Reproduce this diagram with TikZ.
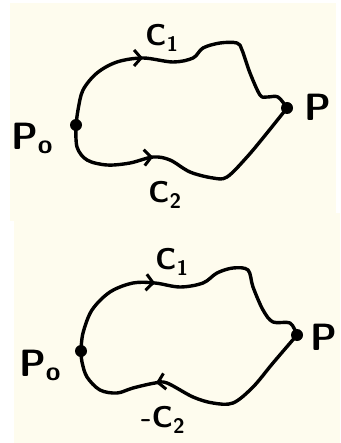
\documentclass[tikz,border=0pt]{standalone}
\usepackage{tikz}
\usetikzlibrary{arrows.meta, decorations.markings}
\definecolor{paper}{HTML}{FEFCEE}

\begin{document}
\begin{tikzpicture}[
    x=1pt, y=-1pt,
    pathline/.style={line width=3.4pt, line cap=round, line join=round},
    dot/.style={circle, fill=black, minimum size=12pt, inner sep=0pt},
    curvelabel/.style={font=\sffamily\bfseries\fontsize{30}{30}\selectfont},
    ptlabel/.style={font=\sffamily\bfseries\fontsize{38}{38}\selectfont},
    midarrow/.style={postaction={decorate, decoration={markings,
        mark=at position #1 with {\arrow{Straight Barb[length=7pt, width=16pt, line width=3pt]}}}}},
]

\useasboundingbox (0,0) rectangle (340,443);

% paper sheets
\fill[paper] (10,3) rectangle (336,221);
\fill[paper] (14,213) rectangle (340,443);

% Top: two paths C1 and C2 from P0 to P
\node[dot] (pzeroA) at (76,125) {};
\node[dot] (pA) at (287,108) {};

\draw[pathline, midarrow=0.36] plot[smooth, tension=0.55] coordinates {
    (pzeroA.center) (78,110) (83,90) (97,73) (117,62) (143,58) (173,62)
    (193,58) (203,48) (220,43) (237,43) (242,50) (250,73) (260,95)
    (267,97) (278,97) (pA.center)};
\draw[pathline, midarrow=0.385] plot[smooth, tension=0.55] coordinates {
    (pzeroA.center) (77,147) (87,160) (107,165) (130,163) (153,157)
    (170,160) (190,172) (213,178) (227,177) (247,157) (267,133)
    (pA.center)};

\node[curvelabel] (cA) at (162,38) {C\textsubscript{1}};
\node[curvelabel] (cB) at (165,195) {C\textsubscript{2}};
\node[ptlabel] (lzeroA) at (32,138) {P\textsubscript{o}};
\node[ptlabel] (lA) at (318,107) {P};

% Bottom: C1 forward, then -C2 back to P0
\node[dot] (pzeroB) at (81,351) {};
\node[dot] (pB) at (297,335) {};

\draw[pathline, midarrow=0.38] plot[smooth, tension=0.55] coordinates {
    (pzeroB.center) (83,333) (92,310) (110,292) (133,283) (155,283)
    (180,287) (203,283) (217,273) (233,268) (248,270) (253,287)
    (263,310) (273,322) (290,323) (pB.center)};
\draw[pathline, midarrow=0.63] plot[smooth, tension=0.55] coordinates {
    (pB.center) (273,363) (253,387) (233,403) (213,403) (193,397)
    (167,383) (155,383) (133,388) (117,393) (100,390) (87,377)
    (82,362) (pzeroB.center)};

\node[curvelabel] (cC) at (172,262) {C\textsubscript{1}};
\node[curvelabel] (cD) at (163,420) {-C\textsubscript{2}};
\node[ptlabel] (lzeroB) at (40,365) {P\textsubscript{o}};
\node[ptlabel] (lB) at (324,337) {P};

\end{tikzpicture}
\end{document}
